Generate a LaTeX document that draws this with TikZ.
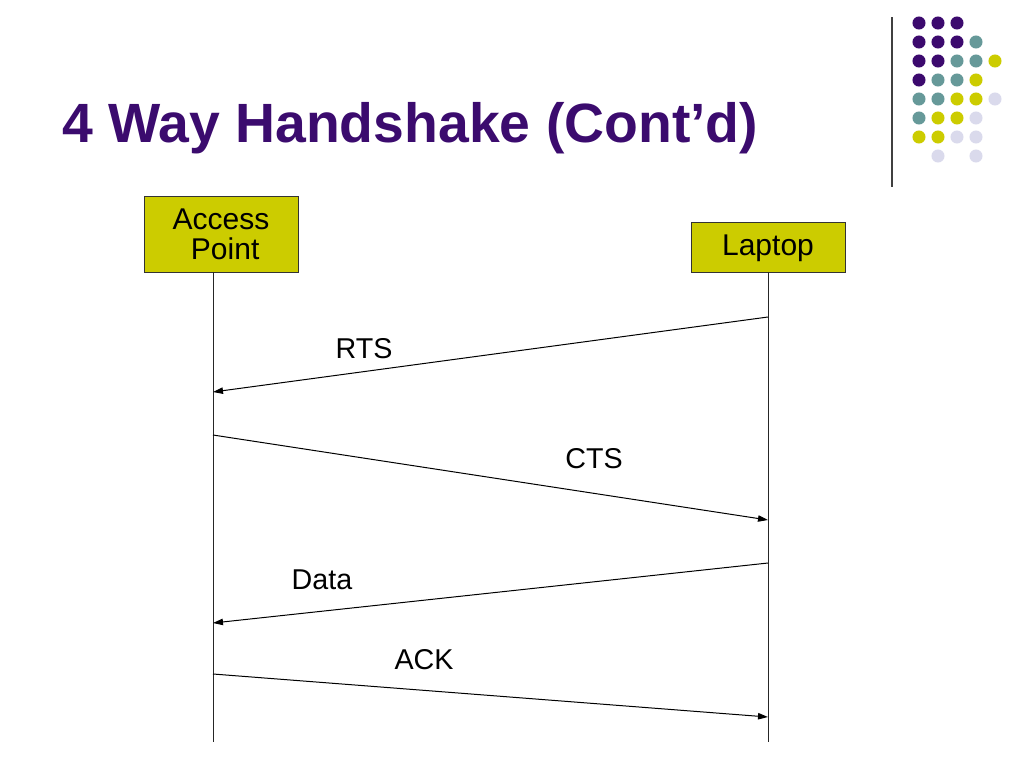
\documentclass[tikz,border=0pt]{standalone}
\usepackage{fontspec}
\setmainfont{Liberation Sans}
\usetikzlibrary{arrows.meta,positioning,calc}
\definecolor{titlepurple}{RGB}{59,11,110}
\definecolor{dotP}{RGB}{60,10,110}
\definecolor{dotT}{RGB}{102,153,153}
\definecolor{dotY}{RGB}{204,204,0}
\definecolor{dotL}{RGB}{218,218,236}
\definecolor{boxfill}{RGB}{204,204,0}

\begin{document}
\begin{tikzpicture}[x=0.75pt,y=-0.75pt,>={Triangle[length=7.5pt,width=4.8pt]},
 party/.style={draw=black!80,fill=boxfill,minimum width=115.5pt,inner sep=0pt,align=center,
   font=\fontsize{22.5}{22.5}\selectfont},
 msg/.style={->,line width=0.75pt},
 lab/.style={font=\fontsize{21.5}{26}\selectfont,anchor=base},
 life/.style={line width=0.75pt,black!85}]
\useasboundingbox (0,0) rectangle (1024,768);
% title and corner ornament
\node[anchor=base west,inner sep=0pt,text=titlepurple,font=\fontsize{41.5}{50}\selectfont\bfseries]
  (title) at (62,142) {4 Way Handshake (Cont’d)};
\coordinate (sepT) at (892,17);
\coordinate (sepB) at (892,187);
\draw[line width=0.8pt,black!75] (sepT) -- (sepB);
\foreach \c/\r/\col in {0/0/dotP,1/0/dotP,2/0/dotP,
  0/1/dotP,1/1/dotP,2/1/dotP,3/1/dotT,
  0/2/dotP,1/2/dotP,2/2/dotT,3/2/dotT,4/2/dotY,
  0/3/dotP,1/3/dotT,2/3/dotT,3/3/dotY,
  0/4/dotT,1/4/dotT,2/4/dotY,3/4/dotY,4/4/dotL,
  0/5/dotT,1/5/dotY,2/5/dotY,3/5/dotL,
  0/6/dotY,1/6/dotY,2/6/dotL,3/6/dotL,
  1/7/dotL,3/7/dotL}
  \fill[\col] (919+19*\c,23+19*\r) circle[radius=4.9pt];
% parties
\node[party,minimum height=57pt] (ap) at (221,234) {Access\\\ Point};
\node[party,minimum height=37.5pt,text depth=2pt] (laptop) at (768,247) {Laptop};
\coordinate (apTop) at ($(ap.south)+(-8,0)$);
\coordinate (apEnd) at (apTop |- 0,742);
\coordinate (lpEnd) at (laptop.south |- 0,742);
\draw[life] (apTop) -- (apEnd);
\draw[life] (laptop.south) -- (lpEnd);
% messages
\coordinate (rtsA) at (laptop.south |- 0,317);
\coordinate (rtsB) at (apTop |- 0,392);
\coordinate (ctsA) at (apTop |- 0,435);
\coordinate (ctsB) at (laptop.south |- 0,520);
\coordinate (dataA) at (laptop.south |- 0,563);
\coordinate (dataB) at (apTop |- 0,623);
\coordinate (ackA) at (apTop |- 0,674);
\coordinate (ackB) at (laptop.south |- 0,717);
\draw[msg] (rtsA) -- (rtsB);
\draw[msg] (ctsA) -- (ctsB);
\draw[msg] (dataA) -- (dataB);
\draw[msg] (ackA) -- (ackB);
\node[lab] (rts) at (364,358) {RTS};
\node[lab] (cts) at (594,468) {CTS};
\node[lab] (data) at (322,589) {Data};
\node[lab] (ack) at (424,669) {ACK};
\end{tikzpicture}
\end{document}
